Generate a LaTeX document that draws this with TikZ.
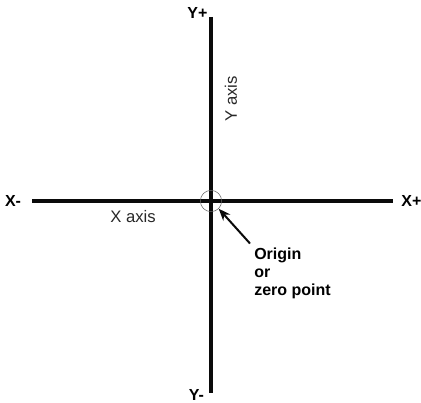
\documentclass[tikz,border=0pt]{standalone}
\usepackage{fontspec}
\setmainfont{Liberation Sans}
\usepackage{tikz}
\usetikzlibrary{arrows.meta, positioning, calc}
\definecolor{AxisBlack}{RGB}{10,10,10}
\definecolor{RingGray}{RGB}{90,90,90}
\definecolor{NameGray}{RGB}{40,40,40}

\begin{document}
\begin{tikzpicture}[x=0.75pt, y=-0.75pt, font=\fontsize{12}{14}\selectfont,
  endlabel/.style={font=\fontsize{12}{14}\selectfont\bfseries, inner sep=0pt},
  axisname/.style={NameGray, font=\fontsize{12.5}{14}\selectfont, inner sep=0pt}]
\useasboundingbox (0,0) rectangle (421,403);

% Axis ends
\coordinate (xl) at (32,201);
\coordinate (xr) at (393,201);
\coordinate (yt) at (211,17);
\coordinate (yb) at (211,393);

% Axes
\draw[AxisBlack, line width=3pt] (xl) -- (xr);
\draw[AxisBlack, line width=3pt] (yt) -- (yb);

% Origin ring
\node[draw=RingGray, circle, thin, minimum size=16pt, inner sep=0pt] (origin) at (211,201) {};

% End labels
\node[endlabel] (xminus) at (13,201) {X-};
\node[endlabel] (xplus) at (411.5,201) {X+};
\node[endlabel] (yplus) at (197.5,13) {Y+};
\node[endlabel] (yminus) at (196.5,394.5) {Y-};

% Axis names
\node[axisname] (xname) at (133,217) {X axis};
\node[axisname, rotate=90] (yname) at (231,99) {Y axis};

% Origin note
\node[font=\fontsize{12}{13.5}\selectfont\bfseries, align=left, anchor=north west, inner sep=0pt]
  (note) at (254,247.5) {Origin\\or\\zero point};
\draw[AxisBlack, line width=1.5pt, -{Stealth[length=9pt, width=7pt]}]
  ($(note.north west)+(-4,-4)$) -- (origin.south east);

\end{tikzpicture}
\end{document}
